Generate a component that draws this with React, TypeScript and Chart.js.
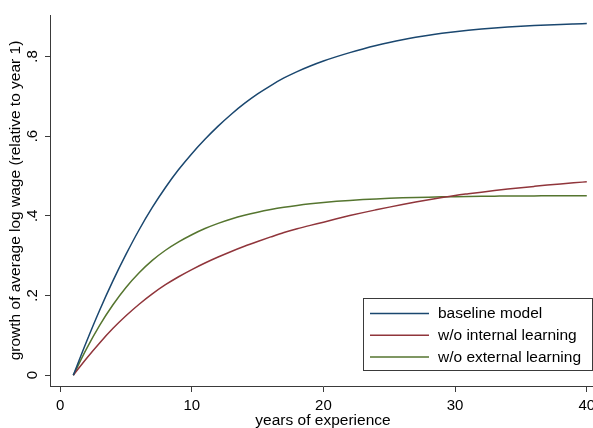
import React, { useEffect, useRef } from "react";
import { Chart, registerables } from "chart.js";

Chart.register(...registerables);

// ---- data ----
const years = [1,2,3,4,5,6,7,8,9,10,11,12,13,14,15,16,17,18,19,20,21,22,23,24,25,26,27,28,29,30,31,32,33,34,35,36,37,38,39,40];

const baselineModel = [0,0.084,0.163,0.236,0.303,0.365,0.421,0.471,0.516,0.556,0.592,0.625,0.655,0.682,0.706,0.727,0.746,0.762,0.776,0.7885,0.7995,0.8096,0.8189,0.8274,0.835,0.8419,0.848,0.8534,0.8581,0.8622,0.8658,0.8689,0.8716,0.8739,0.8759,0.8776,0.8791,0.8804,0.8815,0.8825];

const noInternal = [0,0.042,0.081,0.117,0.149,0.178,0.204,0.227,0.247,0.265,0.2815,0.2965,0.3105,0.3235,0.3355,0.347,0.358,0.3675,0.376,0.384,0.3925,0.4005,0.408,0.415,0.4218,0.4283,0.4345,0.4405,0.446,0.451,0.4553,0.4594,0.4633,0.467,0.4705,0.4738,0.477,0.480,0.4828,0.4854];

const noExternal = [0,0.066,0.125,0.176,0.220,0.257,0.288,0.3135,0.3345,0.3525,0.368,0.381,0.392,0.4013,0.4091,0.4157,0.4213,0.426,0.430,0.4334,0.4363,0.4387,0.4407,0.4424,0.4438,0.445,0.446,0.4468,0.4475,0.4481,0.4486,0.449,0.4493,0.4496,0.4498,0.450,0.4502,0.4503,0.4504,0.4505];

const seriesLabels = ["baseline model", "w/o internal learning", "w/o external learning"];
const seriesColors = ["#1a476f", "#90353b", "#55752f"];

const xTicks = [0, 10, 20, 30, 40];
const yTicks = [0, 0.2, 0.4, 0.6, 0.8];
const yTickLabels = ["0", ".2", ".4", ".6", ".8"];

const xTitle = "years of experience";
const yTitle = "growth of average log wage (relative to year 1)";

const FONT = "'Liberation Sans', Arial, sans-serif";
const AXIS = "#3a3a3a";

const legendPlugin = {
  id: "boxLegend",
  afterDatasetsDraw(chart: any) {
    const { ctx, chartArea } = chart;
    const right = chartArea.right - 3;
    const bottom = chartArea.bottom - 15;
    const w = 230;
    const h = 73;
    const left = right - w;
    const top = bottom - h;
    ctx.save();
    ctx.fillStyle = "#fff";
    ctx.fillRect(left, top, w, h);
    ctx.strokeStyle = AXIS;
    ctx.lineWidth = 1;
    ctx.strokeRect(left + 0.5, top + 0.5, w - 1, h - 1);
    ctx.font = `15.5px ${FONT}`;
    ctx.textBaseline = "middle";
    ctx.textAlign = "left";
    chart.data.datasets.forEach((ds: any, i: number) => {
      const y = top + 15.5 + i * 21.7;
      ctx.strokeStyle = ds.borderColor;
      ctx.lineWidth = 1.5;
      ctx.beginPath();
      ctx.moveTo(left + 7, y);
      ctx.lineTo(left + 66, y);
      ctx.stroke();
      ctx.fillStyle = "#000";
      ctx.fillText(ds.label, left + 75, y + 0.5);
    });
    ctx.restore();
  },
};

export default function App() {
  const ref = useRef<HTMLCanvasElement | null>(null);

  useEffect(() => {
    if (!ref.current) return;
    const mk = (vals: number[], i: number) => ({
      label: seriesLabels[i],
      data: years.map((x, k) => ({ x, y: vals[k] })),
      borderColor: seriesColors[i],
      backgroundColor: seriesColors[i],
      borderWidth: 1.5,
      pointRadius: 0,
      tension: 0.4,
      cubicInterpolationMode: "monotone" as const,
      fill: false,
    });
    const chart = new Chart(ref.current, {
      type: "line",
      data: {
        datasets: [mk(baselineModel, 0), mk(noInternal, 1), mk(noExternal, 2)],
      },
      plugins: [legendPlugin],
      options: {
        animation: false,
        responsive: false,
        devicePixelRatio: 1,
        layout: { padding: { top: 10, right: 14, left: 0, bottom: 0 } },
        plugins: { legend: { display: false }, tooltip: { enabled: false } },
        scales: {
          x: {
            type: "linear",
            min: -0.77,
            max: 40.7,
            afterBuildTicks: (s: any) => {
              s.ticks = xTicks.map((v) => ({ value: v }));
            },
            afterFit: (s: any) => {
              s.height = 42;
            },
            grid: { drawOnChartArea: false, drawTicks: true, tickLength: 6, tickColor: AXIS, color: AXIS },
            border: { display: true, color: AXIS, width: 1 },
            ticks: {
              color: "#000",
              font: { family: FONT, size: 15 },
              padding: 5,
              maxRotation: 0,
              minRotation: 0,
              autoSkip: false,
              callback: (v: any) => String(v),
            },
            title: {
              display: true,
              text: xTitle,
              color: "#000",
              font: { family: FONT, size: 15.5, lineHeight: 1 },
              padding: { top: 0, bottom: 0 },
            },
          },
          y: {
            type: "linear",
            min: -0.0272,
            max: 0.904,
            afterBuildTicks: (s: any) => {
              s.ticks = yTicks.map((v) => ({ value: v }));
            },
            afterFit: (s: any) => {
              s.width = 50;
            },
            grid: { drawOnChartArea: false, drawTicks: true, tickLength: 5, tickColor: AXIS, color: AXIS },
            border: { display: true, color: AXIS, width: 1 },
            ticks: {
              color: "#000",
              font: { family: FONT, size: 15 },
              padding: 6,
              minRotation: 90,
              maxRotation: 90,
              crossAlign: "center",
              autoSkip: false,
              callback: (v: any) => {
                const i = yTicks.findIndex((t) => Math.abs(t - v) < 1e-9);
                return i >= 0 ? yTickLabels[i] : "";
              },
            },
            title: {
              display: true,
              text: yTitle,
              color: "#000",
              font: { family: FONT, size: 15.5, lineHeight: 1 },
              padding: { top: 8, bottom: 0 },
            },
          },
        },
      },
    });
    return () => chart.destroy();
  }, []);

  return (
    <div style={{ position: "fixed", left: 0, top: 0, width: 593, height: 428, overflow: "hidden", background: "#fff" }}>
      <canvas ref={ref} width={610} height={428} style={{ width: 610, height: 428, display: "block" }} />
    </div>
  );
}
